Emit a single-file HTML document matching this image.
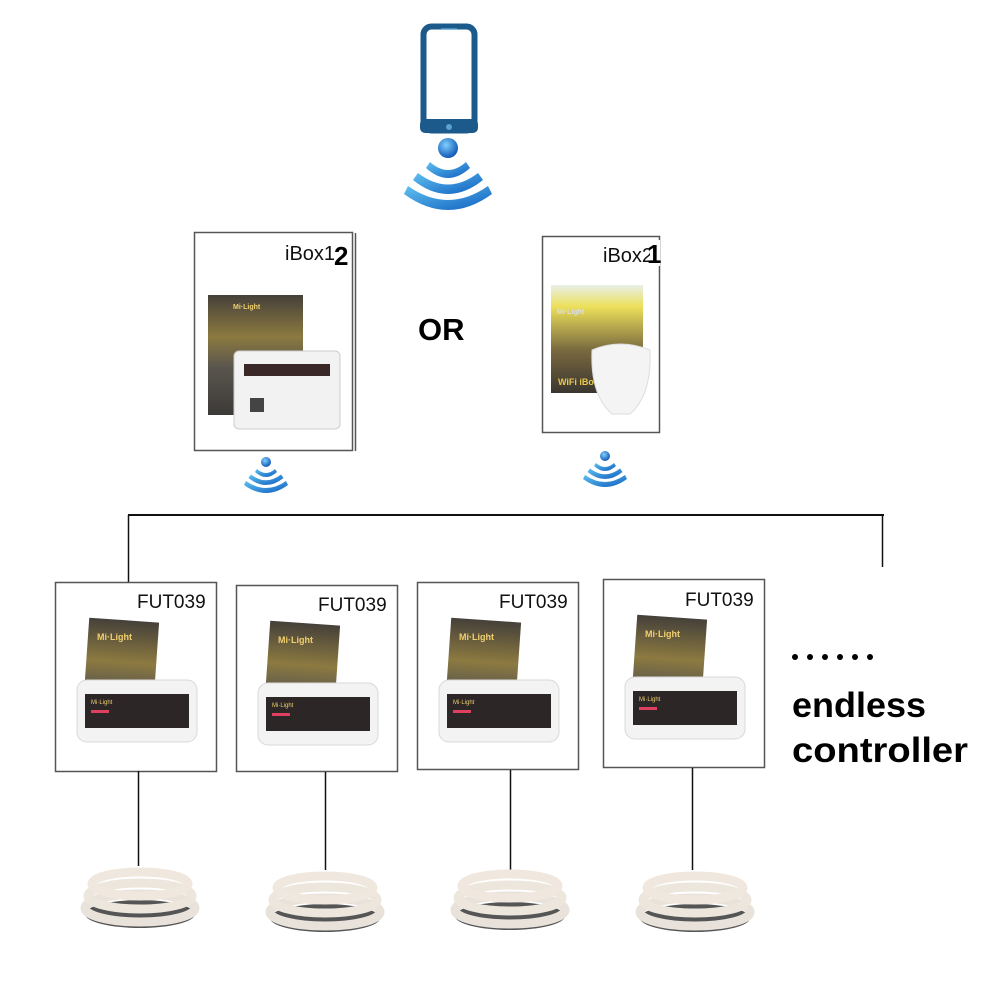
<!DOCTYPE html>
<html><head><meta charset="utf-8"><style>
body{margin:0;background:#fff;width:1000px;height:1000px;overflow:hidden}
svg{display:block}
text{font-family:"Liberation Sans","DejaVu Sans",sans-serif}
</style></head><body>
<svg width="1000" height="1000" viewBox="0 0 1000 1000" xmlns="http://www.w3.org/2000/svg">
<defs>
<linearGradient id="wb" x1="0" y1="0" x2="1" y2="1"><stop offset="0" stop-color="#5fc0f0"/><stop offset="1" stop-color="#1060c0"/></linearGradient>
<radialGradient id="dot" cx="0.4" cy="0.35" r="0.7"><stop offset="0" stop-color="#7fd0ff"/><stop offset="1" stop-color="#0a4fb0"/></radialGradient>
<linearGradient id="box" x1="0" y1="0" x2="0" y2="1"><stop offset="0" stop-color="#45403a"/><stop offset="0.35" stop-color="#8c7a40"/><stop offset="0.6" stop-color="#5a564e"/><stop offset="1" stop-color="#3c3a38"/></linearGradient>
<linearGradient id="cube" x1="0" y1="0" x2="0" y2="1"><stop offset="0" stop-color="#e8f0e8"/><stop offset="0.2" stop-color="#ece05a"/><stop offset="0.6" stop-color="#7a6a40"/><stop offset="1" stop-color="#3a3630"/></linearGradient>
<g id="wifi">
<circle cx="0" cy="0" r="10" fill="url(#dot)"/>
<path d="M-18,14 Q0,30 18,14 L22,20 Q0,40 -22,20 Z" fill="url(#wb)"/>
<path d="M-30,25 Q0,48 30,25 L35,32 Q0,60 -35,32 Z" fill="url(#wb)"/>
<path d="M-40,38 Q0,66 40,38 L44,46 Q0,78 -44,46 Z" fill="url(#wb)"/>
</g>
<g id="fut">
<rect x="30" y="38" width="70" height="120" fill="url(#box)" transform="rotate(4 65 98)"/>
<text x="42" y="58" font-size="9" fill="#f0d070" font-family="Liberation Serif" font-weight="bold">Mi·Light</text>
<rect x="22" y="98" width="120" height="62" rx="10" fill="#f3f3f3" stroke="#d8d8d8"/>
<rect x="30" y="112" width="104" height="34" fill="#2c2626"/>
<text x="36" y="122" font-size="6" fill="#f0d070" font-family="Liberation Serif">Mi·Light</text>
<rect x="36" y="128" width="18" height="3" fill="#e04060"/>
</g>
<g id="strip">
<ellipse cx="0" cy="42" rx="55" ry="14" fill="#555"/>
<ellipse cx="0" cy="36" rx="55" ry="14" fill="none" stroke="#e8e2da" stroke-width="9"/>
<ellipse cx="0" cy="24" rx="52" ry="13" fill="none" stroke="#ece6dc" stroke-width="9"/>
<ellipse cx="0" cy="12" rx="48" ry="12" fill="none" stroke="#f0e8de" stroke-width="9"/>
</g>
</defs>

<!-- phone -->
<rect x="423.5" y="26.5" width="51" height="104" rx="8" fill="none" stroke="#1d5a8c" stroke-width="6"/>
<rect x="420" y="119" width="58" height="14" rx="5" fill="#1d5a8c"/>
<circle cx="449" cy="127" r="3" fill="#5aa0d0"/>
<line x1="441" y1="29" x2="457" y2="29" stroke="#5aa0d0" stroke-width="1.5"/>
<use href="#wifi" transform="translate(448,148)"/>

<!-- iBox 1 -->
<rect x="194.5" y="232.5" width="158" height="218" fill="#fff" stroke="#555" stroke-width="1.5"/>
<line x1="355.5" y1="233" x2="355.5" y2="451" stroke="#555" stroke-width="1.5"/>
<text x="285" y="260" font-size="20" fill="#111">iBox1</text>
<text x="334" y="265" font-size="26" font-weight="bold" fill="#000">2</text>
<rect x="208" y="295" width="95" height="120" fill="url(#box)"/>
<text x="233" y="309" font-size="7" fill="#f0d070" font-weight="bold" font-family="Liberation Serif">Mi·Light</text>
<rect x="234" y="351" width="106" height="78" rx="5" fill="#f2f2f2" stroke="#ccc"/>
<rect x="244" y="364" width="86" height="12" fill="#3a2828"/>
<rect x="250" y="398" width="14" height="14" fill="#444"/>
<use href="#wifi" transform="translate(266,462) scale(0.5)"/>

<!-- OR -->
<text x="418" y="340" font-size="31" font-weight="bold" fill="#000">OR</text>

<!-- iBox 2 -->
<rect x="542.5" y="236.5" width="117" height="196" fill="#fff" stroke="#555" stroke-width="1.5"/>
<text x="603" y="262" font-size="20" fill="#111">iBox2</text>
<rect x="650" y="240" width="10" height="26" fill="#fff"/>
<text x="647" y="263" font-size="26" font-weight="bold" fill="#000">1</text>
<rect x="551" y="285" width="92" height="108" fill="url(#cube)"/>
<text x="557" y="314" font-size="7" fill="#ddd" font-weight="bold" font-family="Liberation Serif">Mi·Light</text>
<text x="558" y="385" font-size="9" fill="#e8c850" font-weight="bold">WiFi iBo</text>
<path d="M592,350 Q620,338 650,350 Q652,395 630,414 L612,414 Q590,395 592,350 Z" fill="#f4f4f4" stroke="#ddd"/>
<use href="#wifi" transform="translate(605,456) scale(0.5)"/>

<!-- bus -->
<line x1="128" y1="515" x2="884" y2="515" stroke="#111" stroke-width="2"/>
<line x1="128.5" y1="515" x2="128.5" y2="582" stroke="#111" stroke-width="1.5"/>
<line x1="882.5" y1="515" x2="882.5" y2="567" stroke="#111" stroke-width="1.5"/>

<!-- FUT boxes -->
<g transform="translate(55,582)"><rect x="0.5" y="0.5" width="161" height="189" fill="#fff" stroke="#555" stroke-width="1.5"/><text x="82" y="26" font-size="19" fill="#111">FUT039</text><use href="#fut"/></g>
<g transform="translate(236,585)"><rect x="0.5" y="0.5" width="161" height="186" fill="#fff" stroke="#555" stroke-width="1.5"/><text x="82" y="26" font-size="19" fill="#111">FUT039</text><use href="#fut"/></g>
<g transform="translate(417,582)"><rect x="0.5" y="0.5" width="161" height="187" fill="#fff" stroke="#555" stroke-width="1.5"/><text x="82" y="26" font-size="19" fill="#111">FUT039</text><use href="#fut"/></g>
<g transform="translate(603,579)"><rect x="0.5" y="0.5" width="161" height="188" fill="#fff" stroke="#555" stroke-width="1.5"/><text x="82" y="27" font-size="19" fill="#111">FUT039</text><use href="#fut"/></g>

<!-- drops -->
<line x1="138.5" y1="771" x2="138.5" y2="866" stroke="#111" stroke-width="1.5"/>
<line x1="325.5" y1="772" x2="325.5" y2="870" stroke="#111" stroke-width="1.5"/>
<line x1="510.5" y1="770" x2="510.5" y2="870" stroke="#111" stroke-width="1.5"/>
<line x1="692.5" y1="768" x2="692.5" y2="870" stroke="#111" stroke-width="1.5"/>

<use href="#strip" transform="translate(140,872)"/>
<use href="#strip" transform="translate(325,876)"/>
<use href="#strip" transform="translate(510,874)"/>
<use href="#strip" transform="translate(695,876)"/>

<!-- endless -->
<g fill="#000"><circle cx="795" cy="657" r="3"/><circle cx="810" cy="657" r="3"/><circle cx="825" cy="657" r="3"/><circle cx="840" cy="657" r="3"/><circle cx="855" cy="657" r="3"/><circle cx="870" cy="657" r="3"/></g>
<text x="792" y="717" font-size="35" font-weight="bold" fill="#000" textLength="134" lengthAdjust="spacingAndGlyphs">endless</text>
<text x="792" y="762" font-size="35" font-weight="bold" fill="#000" textLength="176" lengthAdjust="spacingAndGlyphs">controller</text>
</svg>
</body></html>
